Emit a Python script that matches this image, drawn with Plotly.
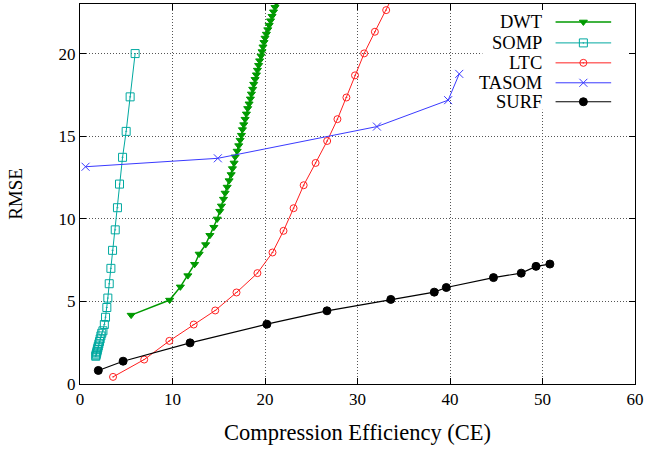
import plotly.graph_objects as go

# RMSE versus compression efficiency for five compression schemes
dwt_ce = [5.53, 9.69, 10.85, 11.66, 12.39, 12.88, 13.58, 14.04, 14.47, 14.83,
          15.11, 15.29, 15.51, 15.69, 15.91, 16.12, 16.34, 16.48, 16.66, 16.77,
          16.99, 17.16, 17.31, 17.45, 17.56, 17.70, 17.85, 17.99, 18.13, 18.28,
          18.42, 18.53, 18.67, 18.78, 18.93, 19.07, 19.18, 19.31, 19.42, 19.57,
          19.68, 19.78, 19.89, 20.00, 20.15, 20.30, 20.45, 20.60, 20.76, 20.92,
          21.08, 21.24, 21.40]
dwt_rmse = [4.17, 5.08, 5.88, 6.56, 7.25, 7.87, 8.44, 9.00, 9.49, 9.99,
            10.46, 10.78, 11.19, 11.56, 11.92, 12.31, 12.68, 13.04, 13.38, 13.75,
            14.10, 14.43, 14.76, 15.06, 15.40, 15.70, 16.03, 16.35, 16.68, 16.96,
            17.26, 17.56, 17.85, 18.15, 18.44, 18.72, 19.00, 19.29, 19.57, 19.86,
            20.12, 20.41, 20.68, 20.94, 21.18, 21.45, 21.72, 21.99, 22.26, 22.53,
            22.80, 23.07, 23.34]

somp_ce = [1.70, 1.73, 1.76, 1.80, 1.84, 1.88, 1.93, 1.98, 2.04, 2.11, 2.18,
           2.26, 2.35, 2.48, 2.63, 2.76, 2.90, 3.01, 3.16, 3.34, 3.52, 3.81,
           4.05, 4.27, 4.60, 4.99, 5.42, 5.96]
somp_rmse = [1.68, 1.74, 1.81, 1.89, 1.98, 2.08, 2.19, 2.30, 2.43, 2.57, 2.73,
             2.91, 3.07, 3.22, 3.60, 4.04, 4.63, 5.20, 6.07, 7.00, 8.09, 9.33,
             10.67, 12.10, 13.72, 15.29, 17.38, 20.00]

ltc_ce = [3.57, 6.94, 9.66, 12.29, 14.62, 16.92, 19.18, 20.81, 22.00, 23.09,
          24.18, 25.47, 26.72, 27.83, 28.80, 29.73, 30.72, 31.88, 33.10, 34.30]
ltc_rmse = [0.43, 1.48, 2.61, 3.60, 4.45, 5.54, 6.71, 7.96, 9.27, 10.64,
            12.03, 13.38, 14.71, 16.03, 17.34, 18.68, 20.01, 21.32, 22.63, 24.00]

tasom_ce = [0.6, 14.9, 32.1, 39.8, 41.0]
tasom_rmse = [13.15, 13.66, 15.58, 17.18, 18.77]

surf_ce = [1.98, 4.66, 11.9, 20.2, 26.7, 33.6, 38.3, 39.6, 44.7, 47.7, 49.3, 50.8]
surf_rmse = [0.82, 1.38, 2.49, 3.62, 4.43, 5.12, 5.56, 5.84, 6.44, 6.71, 7.12, 7.26]

series_names = ["DWT", "SOMP", "LTC", "TASOM", "SURF"]
x_ticks = [0, 10, 20, 30, 40, 50, 60]
y_ticks = [0, 5, 10, 15, 20]

styles = {
    "DWT": dict(color="#009a00", symbol="triangle-down", size=7, lw=1.5),
    "SOMP": dict(color="#00a9a0", symbol="square-open-dot", size=8, lw=1.0),
    "LTC": dict(color="#ff2020", symbol="circle-open-dot", size=7, lw=1.0),
    "TASOM": dict(color="#3a3aff", symbol="x-thin-open", size=8, lw=1.0),
    "SURF": dict(color="#000000", symbol="circle", size=8, lw=1.2),
}
data = {
    "DWT": (dwt_ce, dwt_rmse),
    "SOMP": (somp_ce, somp_rmse),
    "LTC": (ltc_ce, ltc_rmse),
    "TASOM": (tasom_ce, tasom_rmse),
    "SURF": (surf_ce, surf_rmse),
}

FONT = "Liberation Serif"
W, H = 647, 451
L, R, T, B = 80, 8, 3, 67

fig = go.Figure()

# white panel behind the key: drawn first so it sits over the grid, under the curves
key_x0, key_x1, key_y0, key_y1 = 43.5, 59.4, 16.6, 22.9
fig.add_trace(go.Scatter(
    x=[key_x0, key_x1, key_x1, key_x0, key_x0],
    y=[key_y0, key_y0, key_y1, key_y1, key_y0],
    mode="lines", fill="toself", fillcolor="white",
    line=dict(width=0, color="white"), showlegend=False, hoverinfo="skip",
))

for name in series_names:
    st = styles[name]
    xs, ys = data[name]
    fig.add_trace(go.Scatter(
        x=xs, y=ys, mode="lines+markers", name=name, showlegend=False,
        line=dict(color=st["color"], width=st["lw"]),
        marker=dict(symbol=st["symbol"], size=st["size"], color=st["color"],
                    line=dict(color=st["color"], width=1)),
        cliponaxis=True,
    ))

# key drawn on an overlay axis measured in pixels of the plot area
plot_w = W - L - R
plot_h = H - T - B
row_y = [18, 39, 59, 79, 98]
line_x0, line_x1, mark_x = 479, 535, 507
text_right = 467
for name, yy in zip(series_names, row_y):
    st = styles[name]
    fig.add_trace(go.Scatter(
        x=[line_x0, mark_x, line_x1], y=[yy, yy, yy], mode="lines",
        xaxis="x2", yaxis="y2", showlegend=False, hoverinfo="skip",
        line=dict(color=st["color"], width=st["lw"]),
    ))
    fig.add_trace(go.Scatter(
        x=[mark_x], y=[yy], mode="markers",
        xaxis="x2", yaxis="y2", showlegend=False, hoverinfo="skip",
        marker=dict(symbol=st["symbol"], size=st["size"], color=st["color"],
                    line=dict(color=st["color"], width=1)),
    ))
    fig.add_annotation(x=text_right, y=yy, xref="x2", yref="y2", text=name,
                       showarrow=False, xanchor="right", yanchor="middle",
                       font=dict(family=FONT, size=18.5, color="black"))

axis_common = dict(
    showline=True, linecolor="black", linewidth=1, mirror="allticks",
    ticks="inside", ticklen=6, tickcolor="black", tickwidth=1,
    showgrid=True, gridcolor="#555555", griddash="1px,2px", gridwidth=1,
    zeroline=False, tickfont=dict(family=FONT, size=17, color="black"),
    ticklabeloverflow="allow",
)
fig.update_layout(
    width=W, height=H,
    margin=dict(l=L, r=R, t=T, b=B),
    paper_bgcolor="white", plot_bgcolor="white",
    font=dict(family=FONT, color="black"),
    xaxis=dict(range=[0, 60], tickvals=x_ticks, **axis_common,
               title=dict(text="Compression Efficiency (CE)",
                          font=dict(family=FONT, size=22.5), standoff=15)),
    yaxis=dict(range=[0, 23], tickvals=y_ticks, **axis_common,
               title=dict(text="RMSE", font=dict(family=FONT, size=19),
                          standoff=30)),
    xaxis2=dict(overlaying="x", range=[0, plot_w], visible=False, fixedrange=True),
    yaxis2=dict(overlaying="y", range=[plot_h, 0], visible=False, fixedrange=True),
    showlegend=False,
)

fig.write_html("out.html")
